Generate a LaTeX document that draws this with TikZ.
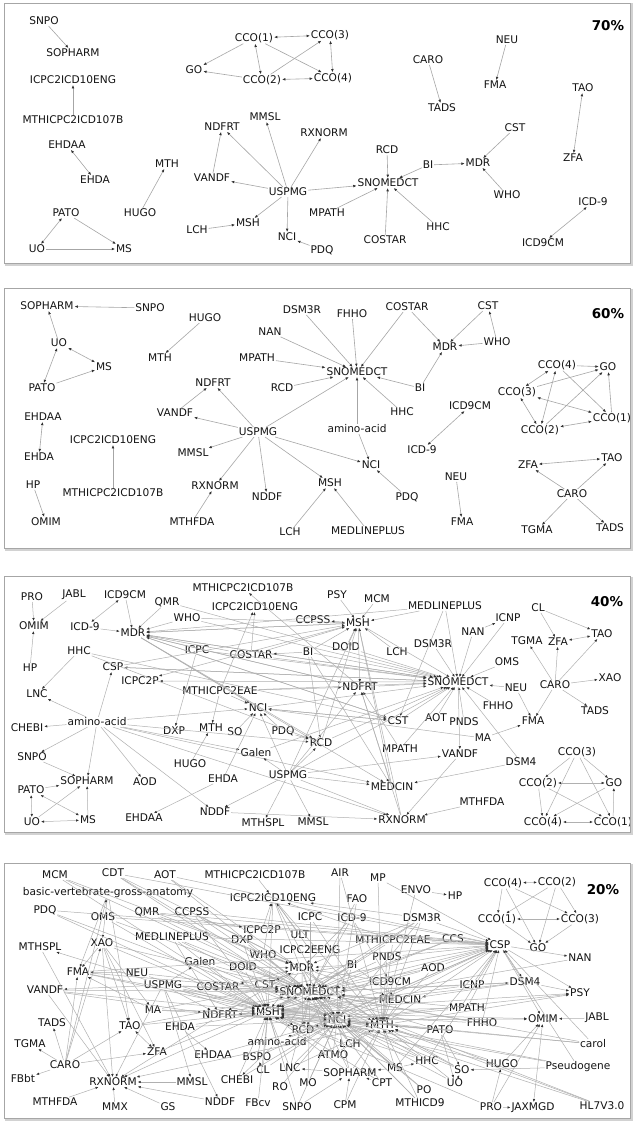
\documentclass[tikz,border=0pt]{standalone}
\usepackage{fontspec}
\setmainfont{DejaVu Sans}
\usetikzlibrary{arrows.meta}
\newcommand\labfont{\fontsize{10.6}{12}\selectfont}
\newcommand\pctfont{\fontsize{13.5}{14}\selectfont\bfseries}
\tikzset{
  n/.style={font=\labfont, inner sep=0.8pt, text=black!92},
  pct/.style={font=\pctfont, text=black},
  e/.style={draw=gray!70, line width=0.6pt, -{Latex[length=3.3pt,width=2.7pt,color=black!80]}},
  b/.style={draw=gray!70, line width=0.6pt, {Latex[length=3.3pt,width=2.7pt,color=black!80]}-{Latex[length=3.3pt,width=2.7pt,color=black!80]}},
  h/.style={draw=gray!62, line width=0.5pt, -{Latex[length=3pt,width=2.5pt,color=black!80]}},
  hb/.style={draw=gray!62, line width=0.5pt, {Latex[length=3pt,width=2.5pt,color=black!80]}-{Latex[length=3pt,width=2.5pt,color=black!80]}},
  frame/.style={draw=gray!70, line width=0.9pt},
  shadow/.style={draw=gray!35, line width=2pt}
}
\begin{document}
\begin{tikzpicture}[x=1pt,y=-1pt]
\useasboundingbox (0,0) rectangle (635,1124);
% ---------------- frames ----------------
\foreach \ya/\yb in {3/263, 288/548, 576/832, 863/1118}{
  \draw[shadow] (5.5,\ya+1.5) rectangle (631.5,\yb+1.5);
  \fill[white] (4,\ya) rectangle (630,\yb);
}
% =============== PANEL 1 (70%) ===============
\begin{scope}
\clip (4,3) rectangle (630,263);
\node[pct] (aPct) at (608,26) {70\%};
\node[n] (aSNPO) at (44,21) {SNPO};
\node[n] (aSOPHARM) at (73,53) {SOPHARM};
\node[n] (aICPCENG) at (73,80) {ICPC2ICD10ENG};
\node[n] (aMTHICPCB) at (73,120) {MTHICPC2ICD107B};
\node[n] (aEHDAA) at (67,145) {EHDAA};
\node[n] (aEHDA) at (95,180) {EHDA};
\node[n] (aMTH) at (167,164) {MTH};
\node[n] (aHUGO) at (140,213) {HUGO};
\node[n] (aPATO) at (66,213) {PATO};
\node[n] (aUO) at (37,249) {UO};
\node[n] (aMS) at (124,249) {MS};
\node[n] (aCCOa) at (254,38) {CCO(1)};
\node[n] (aGO) at (194,70) {GO};
\node[n] (aCCOb) at (262,80) {CCO(2)};
\node[n] (aCCOc) at (330,35) {CCO(3)};
\node[n] (aCCOd) at (333,78) {CCO(4)};
\node[n] (aNDFRT) at (222,127) {NDFRT};
\node[n] (aMMSL) at (265,117) {MMSL};
\node[n] (aRXNORM) at (324,133) {RXNORM};
\node[n] (aVANDF) at (212,178) {VANDF};
\node[n] (aUSPMG) at (288,192) {USPMG};
\node[n] (aMSH) at (248,223) {MSH};
\node[n] (aLCH) at (197,230) {LCH};
\node[n] (aNCI) at (287,237) {NCI};
\node[n] (aPDQ) at (322,250) {PDQ};
\node[n] (aMPATH) at (327,213) {MPATH};
\node[n] (aSNOMEDCT) at (388,183) {SNOMEDCT};
\node[n] (aRCD) at (387,150) {RCD};
\node[n] (aBI) at (428,165) {BI};
\node[n] (aMDR) at (478,163) {MDR};
\node[n] (aCST) at (515,128) {CST};
\node[n] (aWHO) at (507,195) {WHO};
\node[n] (aHHC) at (438,227) {HHC};
\node[n] (aCOSTAR) at (385,240) {COSTAR};
\node[n] (aCARO) at (428,60) {CARO};
\node[n] (aTADS) at (442,108) {TADS};
\node[n] (aNEU) at (507,40) {NEU};
\node[n] (aFMA) at (495,85) {FMA};
\node[n] (aTAO) at (583,88) {TAO};
\node[n] (aZFA) at (573,158) {ZFA};
\node[n] (aICDnine) at (593,202) {ICD-9};
\node[n] (aICDnineCM) at (543,243) {ICD9CM};
\foreach \s/\t in {SNPO/SOPHARM, MTHICPCB/ICPCENG, HUGO/MTH, PATO/MS, UO/MS,
  CCOa/GO, CCOa/CCOd, CCOb/GO, CCOb/CCOc, VANDF/NDFRT,
  USPMG/NDFRT, USPMG/MMSL, USPMG/RXNORM, USPMG/VANDF, USPMG/MSH, USPMG/NCI, USPMG/SNOMEDCT,
  LCH/MSH, PDQ/NCI, RCD/SNOMEDCT, BI/SNOMEDCT, BI/MDR, MPATH/SNOMEDCT, COSTAR/SNOMEDCT,
  HHC/SNOMEDCT, CST/MDR, WHO/MDR, CARO/TADS, NEU/FMA}
  {\draw[e] (a\s) -- (a\t);}
\foreach \s/\t in {EHDAA/EHDA, PATO/UO, CCOa/CCOc, CCOa/CCOb, CCOb/CCOd, CCOc/CCOd, TAO/ZFA, ICDnine/ICDnineCM}
  {\draw[b] (a\s) -- (a\t);}
\end{scope}
% =============== PANEL 2 (60%) ===============
\begin{scope}
\clip (4,288) rectangle (630,548);
\node[pct] (bPct) at (608,314) {60\%};
\node[n] (bSOPHARM) at (47,306) {SOPHARM};
\node[n] (bSNPO) at (150,308) {SNPO};
\node[n] (bUO) at (59,343) {UO};
\node[n] (bMS) at (104,367) {MS};
\node[n] (bPATO) at (42,388) {PATO};
\node[n] (bHUGO) at (205,318) {HUGO};
\node[n] (bMTH) at (160,358) {MTH};
\node[n] (bDSMthreeR) at (302,310) {DSM3R};
\node[n] (bNAN) at (270,332) {NAN};
\node[n] (bMPATH) at (257,358) {MPATH};
\node[n] (bNDFRT) at (213,383) {NDFRT};
\node[n] (bRCD) at (282,388) {RCD};
\node[n] (bVANDF) at (175,413) {VANDF};
\node[n] (bEHDAA) at (43,417) {EHDAA};
\node[n] (bEHDA) at (39,457) {EHDA};
\node[n] (bUSPMG) at (258,432) {USPMG};
\node[n] (bICPCENG) at (113,440) {ICPC2ICD10ENG};
\node[n] (bMMSL) at (193,453) {MMSL};
\node[n] (bHP) at (33,485) {HP};
\node[n] (bMTHICPCB) at (113,493) {MTHICPC2ICD107B};
\node[n] (bRXNORM) at (215,486) {RXNORM};
\node[n] (bNDDF) at (267,497) {NDDF};
\node[n] (bOMIM) at (46,522) {OMIM};
\node[n] (bMTHFDA) at (192,522) {MTHFDA};
\node[n] (bLCH) at (290,532) {LCH};
\node[n] (bFHHO) at (352,314) {FHHO};
\node[n] (bCOSTAR) at (407,307) {COSTAR};
\node[n] (bCST) at (488,306) {CST};
\node[n] (bMDR) at (445,347) {MDR};
\node[n] (bWHO) at (497,342) {WHO};
\node[n] (bSNOMEDCT) at (357,372) {SNOMEDCT};
\node[n] (bBI) at (420,388) {BI};
\node[n] (bHHC) at (402,412) {HHC};
\node[n] (bamino) at (357,429) {amino-acid};
\node[n] (bICDnineCM) at (470,406) {ICD9CM};
\node[n] (bICDnine) at (422,450) {ICD-9};
\node[n] (bNCI) at (371,465) {NCI};
\node[n] (bMSH) at (330,483) {MSH};
\node[n] (bPDQ) at (407,497) {PDQ};
\node[n] (bMEDLINE) at (368,531) {MEDLINEPLUS};
\node[n] (bNEU) at (456,477) {NEU};
\node[n] (bFMA) at (462,522) {FMA};
\node[n] (bCCOd) at (557,365) {CCO(4)};
\node[n] (bGO) at (608,367) {GO};
\node[n] (bCCOc) at (517,392) {CCO(3)};
\node[n] (bCCOa) at (612,418) {CCO(1)};
\node[n] (bCCOb) at (540,430) {CCO(2)};
\node[n] (bZFA) at (528,465) {ZFA};
\node[n] (bTAO) at (612,458) {TAO};
\node[n] (bCARO) at (572,494) {CARO};
\node[n] (bTGMA) at (537,530) {TGMA};
\node[n] (bTADS) at (610,528) {TADS};
\foreach \s/\t in {SNPO/SOPHARM, UO/SOPHARM, PATO/MS, HUGO/MTH,
  DSMthreeR/SNOMEDCT, NAN/SNOMEDCT, MPATH/SNOMEDCT, RCD/SNOMEDCT, FHHO/SNOMEDCT, COSTAR/SNOMEDCT,
  COSTAR/MDR, BI/SNOMEDCT, BI/MDR, HHC/SNOMEDCT, USPMG/SNOMEDCT, amino/SNOMEDCT, amino/NCI,
  CST/MDR, WHO/MDR, WHO/CST, VANDF/NDFRT,
  USPMG/NDFRT, USPMG/VANDF, USPMG/MMSL, USPMG/RXNORM, USPMG/NDDF, USPMG/MSH, USPMG/NCI,
  MTHFDA/RXNORM, LCH/MSH, MEDLINE/MSH, PDQ/NCI, MTHICPCB/ICPCENG, HP/OMIM, NEU/FMA,
  CCOd/GO, CCOd/CCOa, CCOc/GO, CCOb/GO, CCOa/GO,
  CARO/ZFA, CARO/TAO, CARO/TGMA, CARO/TADS}
  {\draw[e] (b\s) -- (b\t);}
\foreach \s/\t in {UO/MS, UO/PATO, EHDAA/EHDA, ICDnineCM/ICDnine, CCOd/CCOc, CCOd/CCOb,
  CCOc/CCOa, CCOc/CCOb, CCOb/CCOa, ZFA/TAO}
  {\draw[b] (b\s) -- (b\t);}
\end{scope}
% =============== PANEL 3 (40%) ===============
\begin{scope}
\clip (4,576) rectangle (630,832);
\node[pct] (cPct) at (607,602) {40\%};
\node[n] (cPRO) at (32,597) {PRO};
\node[n] (cJABL) at (74,595) {JABL};
\node[n] (cICDnineCM) at (125,595) {ICD9CM};
\node[n] (cQMR) at (167,602) {QMR};
\node[n] (cMTHICPCB) at (243,588) {MTHICPC2ICD107B};
\node[n] (cOMIM) at (34,626) {OMIM};
\node[n] (cICDnine) at (85,627) {ICD-9};
\node[n] (cMDR) at (133,633) {MDR};
\node[n] (cWHO) at (187,618) {WHO};
\node[n] (cICPCENG) at (255,607) {ICPC2ICD10ENG};
\node[n] (cCCPSS) at (313,620) {CCPSS};
\node[n] (cHHC) at (79,651) {HHC};
\node[n] (cHP) at (30,668) {HP};
\node[n] (cCSP) at (113,667) {CSP};
\node[n] (cICPC) at (197,650) {ICPC};
\node[n] (cCOSTAR) at (251,655) {COSTAR};
\node[n] (cBI) at (308,652) {BI};
\node[n] (cICPCtwoP) at (140,681) {ICPC2P};
\node[n] (cLNC) at (37,694) {LNC};
\node[n] (cMTHICPCEAE) at (220,691) {MTHICPC2EAE};
\node[n] (cNCI) at (258,708) {NCI};
\node[n] (cCHEBI) at (27,728) {CHEBI};
\node[n] (camino) at (97,722) {amino-acid};
\node[n] (cDXP) at (174,731) {DXP};
\node[n] (cMTH) at (211,728) {MTH};
\node[n] (cSO) at (235,732) {SO};
\node[n] (cPDQ) at (283,731) {PDQ};
\node[n] (cRCD) at (321,743) {RCD};
\node[n] (cSNPO) at (32,757) {SNPO};
\node[n] (cGalen) at (256,753) {Galen};
\node[n] (cHUGO) at (190,764) {HUGO};
\node[n] (cSOPHARM) at (87,781) {SOPHARM};
\node[n] (cAOD) at (145,782) {AOD};
\node[n] (cEHDA) at (223,779) {EHDA};
\node[n] (cUSPMG) at (288,775) {USPMG};
\node[n] (cPATO) at (31,790) {PATO};
\node[n] (cEHDAA) at (144,818) {EHDAA};
\node[n] (cNDDF) at (215,812) {NDDF};
\node[n] (cUO) at (32,822) {UO};
\node[n] (cMS) at (88,820) {MS};
\node[n] (cMTHSPL) at (263,823) {MTHSPL};
\node[n] (cMMSL) at (313,822) {MMSL};
\node[n] (cRXNORM) at (402,820) {RXNORM};
\node[n] (cPSY) at (337,595) {PSY};
\node[n] (cMCM) at (377,599) {MCM};
\node[n] (cMEDLINE) at (445,606) {MEDLINEPLUS};
\node[n] (cMSH) at (358,623) {MSH};
\node[n] (cCL) at (538,608) {CL};
\node[n] (cICNP) at (508,618) {ICNP};
\node[n] (cNAN) at (473,632) {NAN};
\node[n] (cTGMA) at (527,641) {TGMA};
\node[n] (cZFA) at (558,642) {ZFA};
\node[n] (cTAO) at (602,634) {TAO};
\node[n] (cDOID) at (346,647) {DOID};
\node[n] (cLCH) at (397,652) {LCH};
\node[n] (cDSMthreeR) at (433,644) {DSM3R};
\node[n] (cOMS) at (507,662) {OMS};
\node[n] (cSNOMEDCT) at (458,682) {SNOMEDCT};
\node[n] (cNEU) at (516,688) {NEU};
\node[n] (cCARO) at (555,685) {CARO};
\node[n] (cXAO) at (610,678) {XAO};
\node[n] (cNDFRT) at (360,687) {NDFRT};
\node[n] (cFHHO) at (498,706) {FHHO};
\node[n] (cTADS) at (595,711) {TADS};
\node[n] (cCST) at (398,721) {CST};
\node[n] (cAOT) at (436,718) {AOT};
\node[n] (cPNDS) at (464,722) {PNDS};
\node[n] (cFMA) at (533,721) {FMA};
\node[n] (cMA) at (483,738) {MA};
\node[n] (cMPATH) at (400,749) {MPATH};
\node[n] (cVANDF) at (460,754) {VANDF};
\node[n] (cDSMfour) at (521,762) {DSM4};
\node[n] (cCCOc) at (577,752) {CCO(3)};
\node[n] (cCCOb) at (538,783) {CCO(2)};
\node[n] (cGO) at (614,783) {GO};
\node[n] (cMEDCIN) at (392,787) {MEDCIN};
\node[n] (cMTHFDA) at (482,802) {MTHFDA};
\node[n] (cCCOd) at (543,822) {CCO(4)};
\node[n] (cCCOa) at (613,822) {CCO(1)};
\foreach \s/\t in {PRO/OMIM, JABL/OMIM, HP/OMIM, ICDnineCM/MDR, ICDnine/MDR, QMR/MDR, QMR/SNOMEDCT,
  HHC/LNC, HHC/CST, amino/LNC, amino/CHEBI, amino/CSP, amino/SNPO, amino/SOPHARM, amino/AOD, amino/NDDF,
  amino/NCI, amino/Galen, amino/RCD, amino/MEDCIN, amino/RXNORM,
  SNPO/SOPHARM, PATO/SOPHARM, UO/SOPHARM, MS/SOPHARM, HUGO/MTH, EHDA/EHDAA, EHDA/NCI,
  MTHICPCEAE/MTH, MTHICPCEAE/NCI, MTHICPCEAE/SNOMEDCT, MTHICPCEAE/NDFRT, ICPC/DXP,
  WHO/MDR, WHO/SNOMEDCT, WHO/MSH, MDR/SNOMEDCT, MDR/MSH, MDR/NDFRT, MDR/CST, MDR/NCI, MDR/RCD, MDR/MEDCIN,
  SNOMEDCT/MDR, MSH/MDR, NDFRT/MDR, COSTAR/MDR, CST/MDR, MEDLINE/MDR,
  COSTAR/ICPCENG, MTHICPCEAE/ICPCENG, NDFRT/MTHICPCB, MSH/ICPCtwoP, SNOMEDCT/ICPCtwoP, SNOMEDCT/CSP,
  BI/COSTAR, BI/SNOMEDCT, BI/MSH, BI/RCD, BI/MEDCIN, MSH/CCPSS,
  PSY/MSH, MCM/MSH, MEDLINE/MSH, MEDLINE/SNOMEDCT, MEDLINE/CST, LCH/MSH, DOID/MSH, DOID/SNOMEDCT,
  DSMthreeR/SNOMEDCT, NAN/ICNP, NAN/SNOMEDCT, ICNP/SNOMEDCT, OMS/SNOMEDCT, NEU/SNOMEDCT, NEU/FMA,
  FHHO/SNOMEDCT, PNDS/SNOMEDCT, AOT/SNOMEDCT, MPATH/SNOMEDCT, MPATH/NDFRT, MA/FMA, MA/NCI,
  DSMfour/SNOMEDCT, DSMfour/MEDCIN, SNOMEDCT/VANDF, VANDF/RXNORM, MTHFDA/RXNORM, NDDF/RXNORM,
  USPMG/Galen, USPMG/NDDF, USPMG/MTHSPL, USPMG/MMSL, USPMG/RXNORM, USPMG/MEDCIN, USPMG/VANDF,
  USPMG/NDFRT, USPMG/MSH, USPMG/SNOMEDCT, USPMG/NCI, USPMG/RCD,
  CL/ZFA, CL/TAO, CARO/ZFA, CARO/TAO, CARO/TGMA, CARO/XAO, CARO/TADS, CARO/FMA,
  MSH/SNOMEDCT, NCI/SNOMEDCT, RCD/SNOMEDCT, RCD/MSH, MEDCIN/MSH, MEDCIN/NDFRT, RXNORM/MSH, RXNORM/NDFRT,
  NDFRT/SNOMEDCT, COSTAR/SNOMEDCT, COSTAR/MSH, ICPC/SNOMEDCT, CSP/MSH, CSP/SNOMEDCT, HHC/RCD,
  SO/NCI, PDQ/NCI, PDQ/RCD, Galen/SNOMEDCT, CST/SNOMEDCT, CST/NCI, NCI/CST, MSH/NDFRT,
  CCOc/CCOb, CCOc/GO, CCOc/CCOd, CCOc/CCOa, CCOb/CCOd, CCOb/CCOa, CCOa/GO, GO/CCOd}
  {\draw[h] (c\s) -- (c\t);}
\foreach \s/\t in {ICDnineCM/ICDnine, PATO/UO, PATO/MS, UO/MS, ZFA/TAO, CCOb/GO, CCOd/CCOa}
  {\draw[hb] (c\s) -- (c\t);}
\end{scope}
% =============== PANEL 4 (20%) ===============
\begin{scope}
\clip (4,863) rectangle (630,1118);
\node[pct] (dPct) at (603,890) {20\%};
\node[n] (dMCM) at (55,875) {MCM};
\node[n] (dCDT) at (113,873) {CDT};
\node[n] (dAOT) at (165,875) {AOT};
\node[n] (dMTHICPCB) at (255,875) {MTHICPC2ICD107B};
\node[n] (dAIR) at (340,873) {AIR};
\node[n] (dMP) at (378,878) {MP};
\node[n] (dENVO) at (416,890) {ENVO};
\node[n] (dBVGA) at (108,893) {basic-vertebrate-gross-anatomy};
\node[n] (dICPCENG) at (273,898) {ICPC2ICD10ENG};
\node[n] (dFAO) at (357,899) {FAO};
\node[n] (dPDQ) at (45,910) {PDQ};
\node[n] (dOMS) at (103,917) {OMS};
\node[n] (dQMR) at (147,912) {QMR};
\node[n] (dCCPSS) at (192,912) {CCPSS};
\node[n] (dICPC) at (310,917) {ICPC};
\node[n] (dICDnine) at (352,918) {ICD-9};
\node[n] (dDSMthreeR) at (422,918) {DSM3R};
\node[n] (dMEDLINE) at (172,937) {MEDLINEPLUS};
\node[n] (dICPCtwoP) at (262,930) {ICPC2P};
\node[n] (dULT) at (300,935) {ULT};
\node[n] (dDXP) at (242,940) {DXP};
\node[n] (dMTHICPCEAE) at (393,940) {MTHICPC2EAE};
\node[n] (dMTHSPL) at (40,947) {MTHSPL};
\node[n] (dXAO) at (102,943) {XAO};
\node[n] (dICPCEENG) at (310,950) {ICPC2EENG};
\node[n] (dWHO) at (263,955) {WHO};
\node[n] (dPNDS) at (387,957) {PNDS};
\node[n] (dGalen) at (200,962) {Galen};
\node[n] (dDOID) at (243,967) {DOID};
\node[n] (dMDR) at (302,968) {MDR};
\node[n] (dBI) at (352,965) {BI};
\node[n] (dAOD) at (433,968) {AOD};
\node[n] (dFMA) at (78,972) {FMA};
\node[n] (dNEU) at (137,973) {NEU};
\node[n] (dUSPMG) at (163,985) {USPMG};
\node[n] (dCOSTAR) at (218,987) {COSTAR};
\node[n] (dCST) at (265,985) {CST};
\node[n] (dICDnineCM) at (390,982) {ICD9CM};
\node[n] (dVANDF) at (45,990) {VANDF};
\node[n] (dSNOMEDCT) at (310,992) {SNOMEDCT};
\node[n] (dMEDCIN) at (400,1000) {MEDCIN};
\node[n] (dMA) at (153,1010) {MA};
\node[n] (dNDFRT) at (220,1015) {NDFRT};
\node[n] (dMSH) at (268,1012) {MSH};
\node[n] (dNCI) at (337,1020) {NCI};
\node[n] (dMTH) at (382,1025) {MTH};
\node[n] (dTADS) at (52,1023) {TADS};
\node[n] (dTAO) at (130,1026) {TAO};
\node[n] (dEHDA) at (180,1027) {EHDA};
\node[n] (dRCD) at (303,1030) {RCD};
\node[n] (damino) at (277,1042) {amino-acid};
\node[n] (dLCH) at (350,1044) {LCH};
\node[n] (dTGMA) at (30,1044) {TGMA};
\node[n] (dZFA) at (157,1052) {ZFA};
\node[n] (dEHDAA) at (213,1055) {EHDAA};
\node[n] (dATMO) at (333,1055) {ATMO};
\node[n] (dBSPO) at (257,1057) {BSPO};
\node[n] (dCARO) at (65,1065) {CARO};
\node[n] (dCL) at (263,1070) {CL};
\node[n] (dLNC) at (290,1068) {LNC};
\node[n] (dSOPHARM) at (350,1073) {SOPHARM};
\node[n] (dMS) at (395,1068) {MS};
\node[n] (dHHC) at (427,1061) {HHC};
\node[n] (dFBbt) at (23,1079) {FBbt};
\node[n] (dRXNORM) at (113,1082) {RXNORM};
\node[n] (dMMSL) at (192,1082) {MMSL};
\node[n] (dCHEBI) at (237,1080) {CHEBI};
\node[n] (dRO) at (280,1087) {RO};
\node[n] (dMO) at (308,1083) {MO};
\node[n] (dCPT) at (382,1083) {CPT};
\node[n] (dPO) at (424,1090) {PO};
\node[n] (dMTHFDA) at (55,1102) {MTHFDA};
\node[n] (dMMX) at (115,1107) {MMX};
\node[n] (dGS) at (168,1107) {GS};
\node[n] (dNDDF) at (220,1102) {NDDF};
\node[n] (dFBcv) at (258,1103) {FBcv};
\node[n] (dSNPO) at (297,1107) {SNPO};
\node[n] (dCPM) at (345,1105) {CPM};
\node[n] (dMTHICDnine) at (420,1103) {MTHICD9};
\node[n] (dCCOd) at (503,883) {CCO(4)};
\node[n] (dCCOb) at (557,882) {CCO(2)};
\node[n] (dHP) at (455,896) {HP};
\node[n] (dCCOa) at (497,919) {CCO(1)};
\node[n] (dCCOc) at (580,919) {CCO(3)};
\node[n] (dCCS) at (453,939) {CCS};
\node[n] (dCSP) at (500,945) {CSP};
\node[n] (dGO) at (538,948) {GO};
\node[n] (dNAN) at (580,958) {NAN};
\node[n] (dICNP) at (472,985) {ICNP};
\node[n] (dDSMfour) at (525,982) {DSM4};
\node[n] (dPSY) at (580,993) {PSY};
\node[n] (dMPATH) at (467,1008) {MPATH};
\node[n] (dOMIM) at (543,1019) {OMIM};
\node[n] (dJABL) at (597,1018) {JABL};
\node[n] (dFHHO) at (482,1023) {FHHO};
\node[n] (dPATO) at (440,1030) {PATO};
\node[n] (dcarol) at (593,1044) {carol};
\node[n] (dHUGO) at (502,1064) {HUGO};
\node[n] (dPseudo) at (578,1067) {Pseudogene};
\node[n] (dSO) at (462,1070) {SO};
\node[n] (dUO) at (455,1083) {UO};
\node[n] (dPRO) at (491,1107) {PRO};
\node[n] (dJAXMGD) at (533,1108) {JAXMGD};
\node[n] (dHLseven) at (602,1106) {HL7V3.0};
\foreach \s/\t in {MCM/MSH, MCM/SNOMEDCT, MCM/MDR, CDT/MDR, CDT/CSP, CDT/SNOMEDCT, CDT/NCI,
  AOT/SNOMEDCT, AOT/MTH, AOT/CSP, MTHICPCB/ICPCENG, AIR/NCI, AIR/MTH, MP/MTH, MP/CSP, ENVO/HP, ENVO/MTH,
  BVGA/XAO, BVGA/FMA, BVGA/TAO, CARO/BVGA, PDQ/NCI, PDQ/MSH, PDQ/CSP, OMS/SNOMEDCT, OMS/CSP, OMS/MSH,
  QMR/MDR, QMR/CSP, QMR/ICPCtwoP, QMR/SNOMEDCT, CCPSS/MSH, CCPSS/SNOMEDCT, CCPSS/MDR, CCPSS/CSP,
  MEDLINE/MSH, MEDLINE/SNOMEDCT, MEDLINE/NDFRT, MEDLINE/NCI, MEDLINE/CSP,
  XAO/TAO, XAO/ZFA, XAO/FMA, XAO/MSH, XAO/RXNORM, XAO/SNOMEDCT, XAO/MA,
  NEU/FMA, NEU/SNOMEDCT, NEU/MSH, MA/FMA, MA/NCI, MA/MSH, MA/CSP, FMA/SNOMEDCT, FMA/MSH, FMA/CSP, FMA/NCI,
  USPMG/MTHSPL, USPMG/VANDF, USPMG/MMSL, USPMG/RXNORM, USPMG/NDDF, USPMG/MEDCIN, USPMG/SNOMEDCT,
  USPMG/MSH, USPMG/NCI, USPMG/NDFRT, USPMG/Galen, USPMG/RCD,
  MTHSPL/RXNORM, VANDF/NDFRT, VANDF/RXNORM, VANDF/MSH, VANDF/SNOMEDCT,
  MTHFDA/RXNORM, MMX/RXNORM, GS/RXNORM, NDDF/RXNORM, MMSL/RXNORM, NDFRT/RXNORM, SNOMEDCT/RXNORM, MTH/RXNORM,
  EHDA/EHDAA, EHDA/NCI, EHDA/MSH, ZFA/SNOMEDCT, TAO/MSH, TAO/SNOMEDCT, EHDAA/NCI,
  Galen/SNOMEDCT, Galen/MSH, Galen/NCI, COSTAR/SNOMEDCT, COSTAR/MDR, COSTAR/MSH,
  DXP/MSH, DXP/SNOMEDCT, ICPC/SNOMEDCT, ICPC/MTH, ICPCtwoP/ICPCENG, ULT/ICPCENG, ICPCEENG/ICPCENG,
  WHO/ICPCENG, WHO/MDR, WHO/SNOMEDCT, DOID/SNOMEDCT, DOID/MSH, DOID/MDR,
  MDR/SNOMEDCT, MDR/MSH, MDR/NCI, MDR/CST, MDR/RCD, MDR/MTH, MDR/MEDCIN, MDR/NDFRT,
  BI/SNOMEDCT, BI/MDR, BI/NCI, BI/COSTAR, BI/MSH, BI/MEDCIN, BI/RCD,
  CST/MSH, CST/SNOMEDCT, CST/MDR, CST/NCI,
  ICDnine/ICDnineCM, ICDnine/MDR, ICDnine/SNOMEDCT, ICDnineCM/MDR, ICDnineCM/SNOMEDCT, ICDnineCM/MTH,
  FAO/SNOMEDCT, FAO/NCI, DSMthreeR/SNOMEDCT, DSMthreeR/MSH, DSMthreeR/NCI, DSMthreeR/CSP, DSMthreeR/MTH,
  DSMthreeR/MDR, DSMthreeR/ICPCENG, MTHICPCEAE/ICPCENG, MTHICPCEAE/MTH, MTHICPCEAE/SNOMEDCT, MTHICPCEAE/CSP,
  PNDS/SNOMEDCT, PNDS/CSP, PNDS/MTH, AOD/SNOMEDCT, AOD/CSP, AOD/MSH, AOD/MTH,
  SNOMEDCT/MSH, SNOMEDCT/NCI, SNOMEDCT/RCD, SNOMEDCT/MTH, SNOMEDCT/CSP,
  MSH/NCI, MSH/RCD, MSH/MTH, MSH/CSP, MSH/NDFRT, NCI/MTH, NCI/RCD, NCI/CSP, RCD/MTH, RCD/CSP,
  MEDCIN/SNOMEDCT, MEDCIN/MSH, MEDCIN/NCI, MEDCIN/CSP, MEDCIN/MTH,
  NDFRT/SNOMEDCT, NDFRT/MSH, NDFRT/NCI, NDFRT/MTH,
  amino/CHEBI, amino/MSH, amino/NCI, amino/SNOMEDCT, amino/RCD, amino/CSP,
  LCH/MSH, LCH/SNOMEDCT, LCH/NCI, ATMO/NCI, ATMO/MTH, ATMO/SNOMEDCT,
  BSPO/NCI, BSPO/MSH, CL/NCI, CL/MSH, CL/BSPO, LNC/SNOMEDCT, LNC/MSH, LNC/NCI, LNC/MTH, SOPHARM/LNC,
  SOPHARM/NCI, SOPHARM/SNOMEDCT, SOPHARM/MSH, SOPHARM/MTH, MS/SOPHARM, MS/NCI, MS/MTH, MS/CSP, MS/SNOMEDCT,
  HHC/SNOMEDCT, HHC/NCI, HHC/MSH, HHC/CSP, MS/HHC, CHEBI/NCI, CHEBI/MSH, RO/NCI, MO/NCI, MO/SNOMEDCT,
  CPT/SNOMEDCT, CPT/MSH, CPT/SOPHARM, CPM/SOPHARM, CPM/MTH, PO/NCI, PO/SNOMEDCT,
  MTHICDnine/SNOMEDCT, MTHICDnine/NCI, MTHICDnine/MTH, FBcv/MSH, SNPO/SOPHARM, SNPO/NCI, SNPO/MSH,
  CARO/XAO, CARO/FMA, CARO/TAO, CARO/ZFA, CARO/TADS, CARO/TGMA, CARO/FBbt,
  CCOd/CCOa, CCOd/GO, CCOd/CCOc, CCOb/CCOa, CCOb/GO, CCOb/CCOc, CCOa/GO, CCOc/GO,
  CCS/SNOMEDCT, CCS/CSP, CCS/MSH, CSP/NAN, CSP/PSY, CSP/OMIM, CSP/DSMfour,
  ICNP/SNOMEDCT, ICNP/CSP, ICNP/MSH, ICNP/DSMfour, DSMfour/SNOMEDCT, DSMfour/MEDCIN, DSMfour/MSH, DSMfour/PSY,
  MPATH/SNOMEDCT, MPATH/MSH, MPATH/NCI, MPATH/CSP, FHHO/SNOMEDCT, FHHO/MSH, FHHO/CSP,
  PATO/MTH, PATO/NCI, PATO/SNOMEDCT, PATO/SO, PATO/UO,
  JABL/OMIM, PRO/OMIM, PRO/JAXMGD, PRO/HUGO, PRO/MSH,
  carol/CSP, carol/MSH, carol/SNOMEDCT, carol/NCI, Pseudo/SO, Pseudo/MSH, Pseudo/NCI, Pseudo/CSP,
  HLseven/SNOMEDCT, HLseven/MTH, HLseven/NCI, HUGO/MSH, HUGO/OMIM, HUGO/MTH,
  SO/NCI, SO/MTH, SO/SNOMEDCT, UO/SO, UO/MTH, UO/NCI, NAN/MSH, MSH/PSY, NCI/PSY, MTH/PSY,
  MSH/OMIM, NCI/OMIM, MTH/CSP, ICPCENG/MSH, ICPCENG/NCI, ICPCENG/MTH, ICPCENG/SNOMEDCT}
  {\draw[h] (d\s) -- (d\t);}
\foreach \s/\t in {TAO/ZFA, CCOd/CCOb, CCOa/CCOc, OMIM/JAXMGD}
  {\draw[hb] (d\s) -- (d\t);}
\end{scope}
% frames on top
\foreach \ya/\yb in {3/263, 288/548, 576/832, 863/1118}{
  \draw[frame] (4,\ya) rectangle (630,\yb);
}
\end{tikzpicture}
\end{document}
